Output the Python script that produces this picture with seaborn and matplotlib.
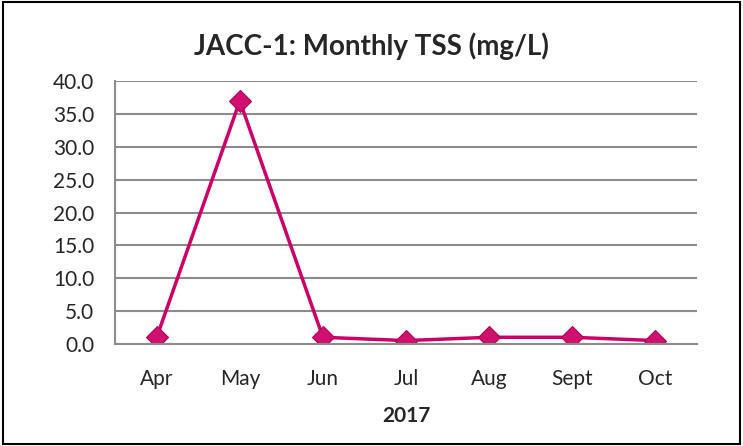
import numpy as np
import pandas as pd
import seaborn as sns
import matplotlib.pyplot as plt
from matplotlib.ticker import FixedLocator, NullFormatter

months = ['Apr', 'May', 'Jun', 'Jul', 'Aug', 'Sept', 'Oct']
tss = [1.0, 37.0, 1.0, 0.5, 1.0, 1.0, 0.5]
yticks = [0, 5, 10, 15, 20, 25, 30, 35, 40]

df = pd.DataFrame({'Month': months, 'TSS': tss})

sns.set_style('white')
plt.rcParams['font.family'] = ['Lato', 'DejaVu Sans']

fig = plt.figure(figsize=(7.43, 4.46), dpi=100)
ax = fig.add_axes([0.155, 0.229, 0.783, 0.589])

line_color = '#CC0066'
sns.lineplot(data=df, x='Month', y='TSS', ax=ax, sort=False, color=line_color,
             linewidth=2.5, marker='D', markersize=11, markerfacecolor='#D0106E',
             markeredgecolor='#B0005A', markeredgewidth=0.8)

ax.set_ylim(0, 40)
ax.set_yticks(yticks)
ax.set_yticklabels([f'{v:.1f}' for v in yticks])
ax.set_xlim(-0.5, len(months) - 0.5)
ax.yaxis.grid(True, color='#8c8c8c', linewidth=1.5)
ax.set_axisbelow(True)

# Excel-style ticks between categories
ax.tick_params(axis='x', which='major', length=0, pad=18, labelsize=15)
ax.xaxis.set_minor_locator(FixedLocator(np.arange(-0.5, len(months), 1.0)))
ax.xaxis.set_minor_formatter(NullFormatter())
ax.tick_params(axis='x', which='minor', length=8, width=1.5, color='#8c8c8c', direction='out')
ax.tick_params(axis='y', length=6, width=1.5, color='#8c8c8c', direction='out', labelsize=15, pad=9)

for side in ['top', 'right']:
    ax.spines[side].set_visible(False)
for side in ['left', 'bottom']:
    ax.spines[side].set_color('#8c8c8c')
    ax.spines[side].set_linewidth(1.5)

ax.set_ylabel('')
ax.set_xlabel('2017', fontsize=15, fontweight='bold', labelpad=12)
fig.suptitle('JACC-1: Monthly TSS (mg/L)', fontsize=20, fontweight='bold', y=0.928)

border = plt.Rectangle((0.004, 0.005), 0.992, 0.99, transform=fig.transFigure,
                       fill=False, edgecolor='black', linewidth=1.5)
fig.patches.append(border)

fig.savefig('out.png', dpi=100)
